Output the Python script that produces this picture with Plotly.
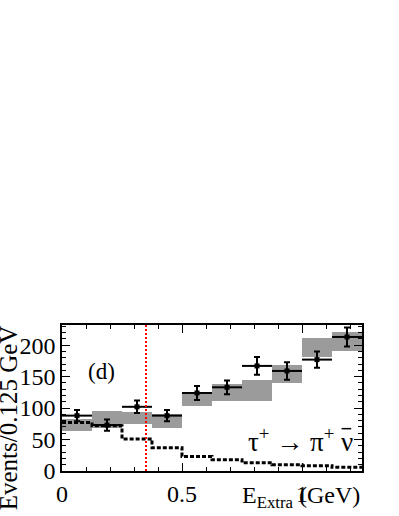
import plotly.graph_objects as go

# binning: 10 bins of 0.125 GeV
edges = [0, 0.125, 0.25, 0.375, 0.5, 0.625, 0.75, 0.875, 1.0, 1.125, 1.25]
centers = [0.0625, 0.1875, 0.3125, 0.4375, 0.5625, 0.6875, 0.8125, 0.9375, 1.0625, 1.1875]

# data points
data_y = [88, 73, 102, 88, 124, 133, 167, 159, 177, 213]
data_err = [9, 9, 10, 9, 11, 11, 14, 14, 13, 15]

# grey band (expectation)
band_lo = [64, 69, 74, 69, 103, 111, 111, 140, 181, 190]
band_hi = [83, 96, 93, 90, 125, 138, 144, 168, 212, 221]

# dashed background histogram
bkg = [77, 72, 51, 37, 23, 18, 13, 10, 8.5, 6]

cut = 0.35

font = "Liberation Serif"

fig = go.Figure()

fig.add_trace(go.Bar(
    x=centers, y=[h - l for h, l in zip(band_hi, band_lo)], base=band_lo,
    width=0.125, marker=dict(color="#9b9b9b", line=dict(width=0)),
))

fig.add_trace(go.Scatter(
    x=edges, y=bkg + [bkg[-1]], mode="lines", line_shape="hv",
    line=dict(color="black", width=3, dash="4px,2px"),
))

fig.add_trace(go.Scatter(
    x=centers, y=data_y, mode="markers",
    marker=dict(color="black", size=5, symbol="square"),
    error_x=dict(type="constant", value=0.0625, color="black", thickness=2, width=0),
    error_y=dict(type="data", array=data_err, color="black", thickness=2, width=3),
))

fig.add_shape(type="line", x0=cut, x1=cut, y0=0, y1=1, yref="paper",
              line=dict(color="red", width=2, dash="2px,2px"))

# labels
fig.add_annotation(x=0.133, y=0.68, xref="paper", yref="paper", text="(d)",
                   xanchor="center", yanchor="middle",
                   showarrow=False, font=dict(size=23))
fig.add_annotation(x=0.975, y=0.215, xref="paper", yref="paper",
                   text="τ<sup>+</sup> → π<sup>+</sup> ν", xanchor="right", yanchor="middle",
                   showarrow=False, font=dict(size=27))
# bar over the nu
fig.add_shape(type="line", xref="paper", yref="paper",
              x0=0.932, x1=0.964, y0=0.29, y1=0.29, line=dict(color="black", width=1.5))

# axis titles
fig.add_annotation(x=1.0, y=-0.18, xref="paper", yref="paper",
                   text="E<sub>Extra</sub> (GeV)", xanchor="right", yanchor="middle",
                   showarrow=False, font=dict(size=24))
fig.add_annotation(x=-0.177, y=1.014, xref="paper", yref="paper",
                   text="Events/0.125 GeV", textangle=-90, xanchor="center", yanchor="top",
                   showarrow=False, font=dict(size=25))

fig.update_layout(
    width=399, height=516,
    margin=dict(l=62, r=37, t=325, b=45),
    paper_bgcolor="white", plot_bgcolor="white",
    showlegend=False, bargap=0,
    font=dict(family=font, size=24, color="black"),
)

fig.update_xaxes(
    range=[0, 1.25], tickvals=[0, 0.5, 1], ticktext=["0", "0.5", "1"],
    ticks="inside", ticklen=8, tickwidth=1, tickcolor="black",
    minor=dict(dtick=0.1, tick0=0, ticks="inside", ticklen=4, tickcolor="black"),
    showline=True, linecolor="black", linewidth=1.5, mirror="ticks",
    showgrid=False, zeroline=False, automargin=False,
)
fig.update_yaxes(
    range=[0, 232], tickvals=[0, 50, 100, 150, 200],
    ticks="inside", ticklen=8, tickwidth=1, tickcolor="black",
    minor=dict(dtick=10, tick0=0, ticks="inside", ticklen=4, tickcolor="black"),
    showline=True, linecolor="black", linewidth=1.5, mirror="ticks",
    showgrid=False, zeroline=False, automargin=False,
)

# drop the default 8px body margin so the figure fills the window
fig.write_html("out.html", config={"displayModeBar": False},
               post_script="document.body.style.margin='0';")
